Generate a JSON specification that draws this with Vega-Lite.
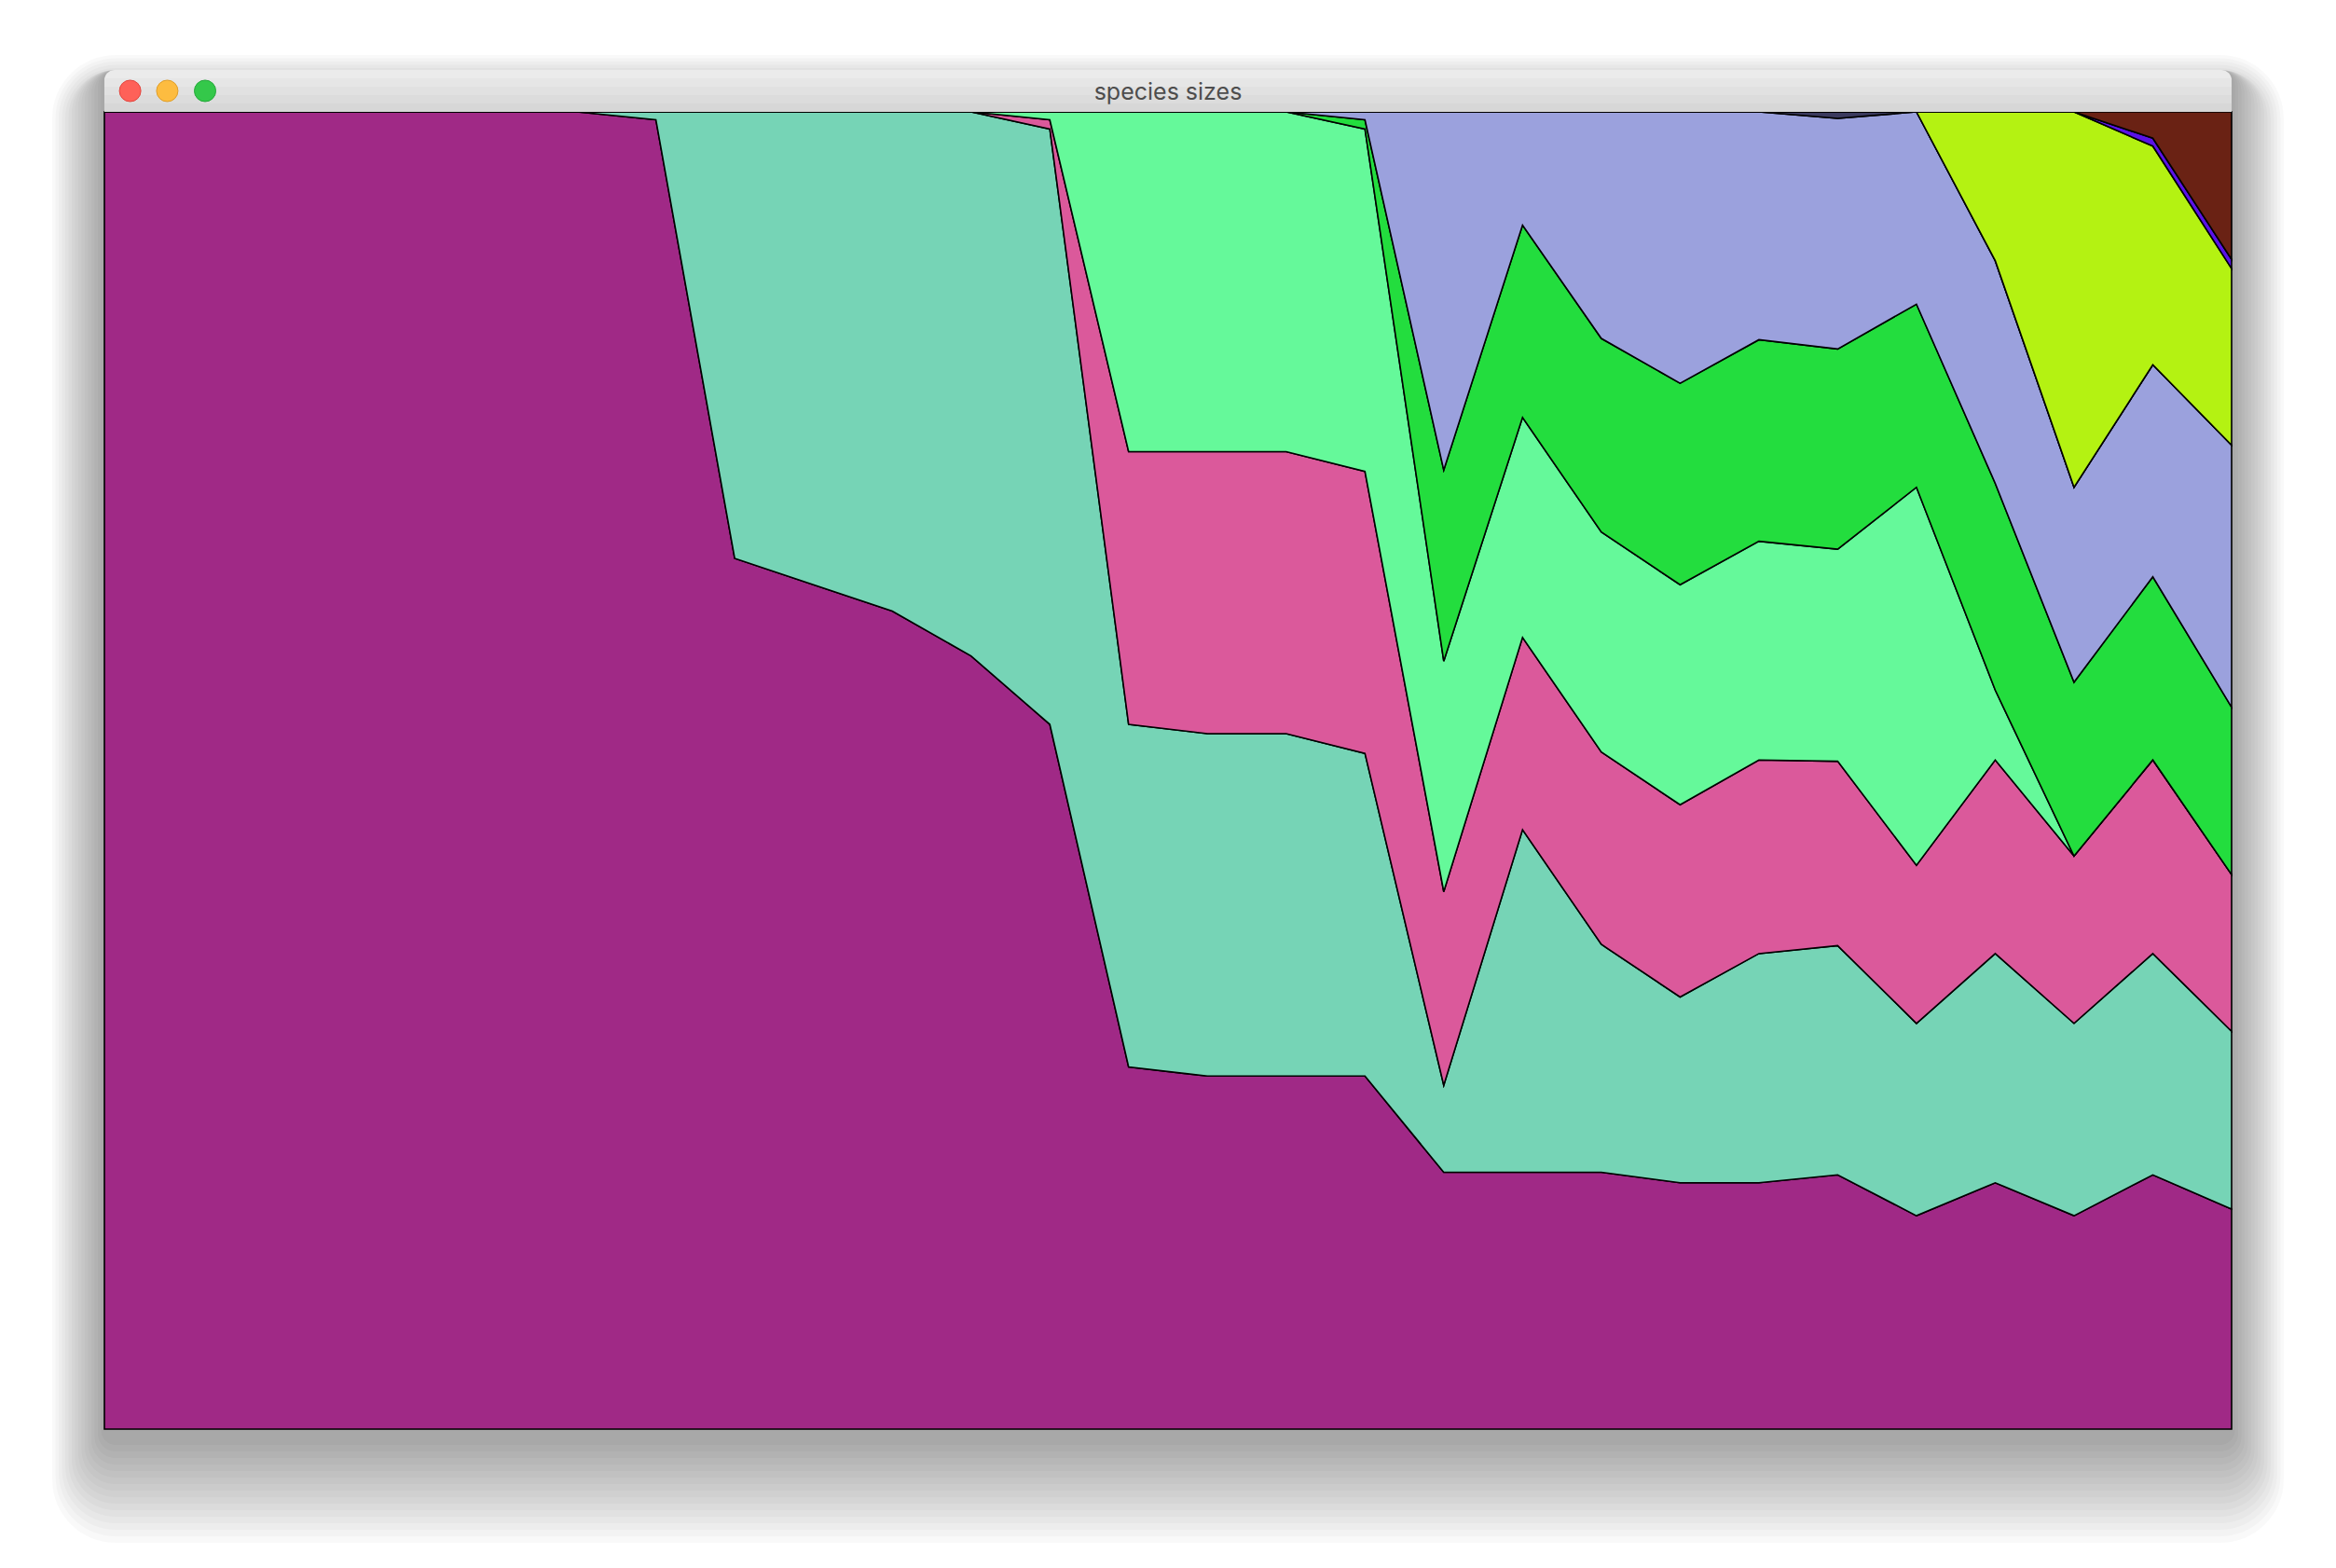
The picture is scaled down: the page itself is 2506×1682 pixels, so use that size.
{
  "$schema": "https://vega.github.io/schema/vega-lite/v6.json",
  "width": 2506,
  "height": 1682,
  "padding": 0,
  "autosize": {"type": "fit", "contains": "padding"},
  "background": "#ffffff",
  "view": {"stroke": null},
  "layer": [
    {
      "data": {
        "values": [
          {"t": 0, "s01": 1000, "s02": 0, "s03": 0, "s04": 0, "s05": 0, "s06": 0, "s07": 0, "s08": 0, "s09": 0, "s10": 0},
          {"t": 1, "s01": 1000, "s02": 0, "s03": 0, "s04": 0, "s05": 0, "s06": 0, "s07": 0, "s08": 0, "s09": 0, "s10": 0},
          {"t": 2, "s01": 1000, "s02": 0, "s03": 0, "s04": 0, "s05": 0, "s06": 0, "s07": 0, "s08": 0, "s09": 0, "s10": 0},
          {"t": 3, "s01": 1000, "s02": 0, "s03": 0, "s04": 0, "s05": 0, "s06": 0, "s07": 0, "s08": 0, "s09": 0, "s10": 0},
          {"t": 4, "s01": 1000, "s02": 0, "s03": 0, "s04": 0, "s05": 0, "s06": 0, "s07": 0, "s08": 0, "s09": 0, "s10": 0},
          {"t": 5, "s01": 1000, "s02": 0, "s03": 0, "s04": 0, "s05": 0, "s06": 0, "s07": 0, "s08": 0, "s09": 0, "s10": 0},
          {"t": 6, "s01": 1000, "s02": 0, "s03": 0, "s04": 0, "s05": 0, "s06": 0, "s07": 0, "s08": 0, "s09": 0, "s10": 0},
          {"t": 7, "s01": 994, "s02": 6, "s03": 0, "s04": 0, "s05": 0, "s06": 0, "s07": 0, "s08": 0, "s09": 0, "s10": 0},
          {"t": 8, "s01": 661, "s02": 339, "s03": 0, "s04": 0, "s05": 0, "s06": 0, "s07": 0, "s08": 0, "s09": 0, "s10": 0},
          {"t": 9, "s01": 641, "s02": 359, "s03": 0, "s04": 0, "s05": 0, "s06": 0, "s07": 0, "s08": 0, "s09": 0, "s10": 0},
          {"t": 10, "s01": 621, "s02": 379, "s03": 0, "s04": 0, "s05": 0, "s06": 0, "s07": 0, "s08": 0, "s09": 0, "s10": 0},
          {"t": 11, "s01": 587, "s02": 413, "s03": 0, "s04": 0, "s05": 0, "s06": 0, "s07": 0, "s08": 0, "s09": 0, "s10": 0},
          {"t": 12, "s01": 535, "s02": 452, "s03": 7, "s04": 6, "s05": 0, "s06": 0, "s07": 0, "s08": 0, "s09": 0, "s10": 0},
          {"t": 13, "s01": 275, "s02": 260, "s03": 207, "s04": 258, "s05": 0, "s06": 0, "s07": 0, "s08": 0, "s09": 0, "s10": 0},
          {"t": 14, "s01": 268, "s02": 260, "s03": 214, "s04": 258, "s05": 0, "s06": 0, "s07": 0, "s08": 0, "s09": 0, "s10": 0},
          {"t": 15, "s01": 268, "s02": 260, "s03": 214, "s04": 258, "s05": 0, "s06": 0, "s07": 0, "s08": 0, "s09": 0, "s10": 0},
          {"t": 16, "s01": 268, "s02": 245, "s03": 214, "s04": 260, "s05": 7, "s06": 6, "s07": 0, "s08": 0, "s09": 0, "s10": 0},
          {"t": 17, "s01": 195, "s02": 66, "s03": 147, "s04": 175, "s05": 145, "s06": 272, "s07": 0, "s08": 0, "s09": 0, "s10": 0},
          {"t": 18, "s01": 195, "s02": 260, "s03": 146, "s04": 167, "s05": 146, "s06": 86, "s07": 0, "s08": 0, "s09": 0, "s10": 0},
          {"t": 19, "s01": 195, "s02": 173, "s03": 146, "s04": 167, "s05": 147, "s06": 172, "s07": 0, "s08": 0, "s09": 0, "s10": 0},
          {"t": 20, "s01": 187, "s02": 141, "s03": 146, "s04": 167, "s05": 153, "s06": 206, "s07": 0, "s08": 0, "s09": 0, "s10": 0},
          {"t": 21, "s01": 187, "s02": 174, "s03": 147, "s04": 166, "s05": 153, "s06": 173, "s07": 0, "s08": 0, "s09": 0, "s10": 0},
          {"t": 22, "s01": 193, "s02": 174, "s03": 140, "s04": 161, "s05": 152, "s06": 175, "s07": 5, "s08": 0, "s09": 0, "s10": 0},
          {"t": 23, "s01": 162, "s02": 146, "s03": 120, "s04": 287, "s05": 139, "s06": 146, "s07": 0, "s08": 0, "s09": 0, "s10": 0},
          {"t": 24, "s01": 187, "s02": 174, "s03": 147, "s04": 53, "s05": 157, "s06": 169, "s07": 0, "s08": 113, "s09": 0, "s10": 0},
          {"t": 25, "s01": 162, "s02": 146, "s03": 127, "s04": 0, "s05": 132, "s06": 148, "s07": 0, "s08": 285, "s09": 0, "s10": 0},
          {"t": 26, "s01": 193, "s02": 168, "s03": 147, "s04": 0, "s05": 139, "s06": 161, "s07": 0, "s08": 166, "s09": 6, "s10": 20},
          {"t": 27, "s01": 167, "s02": 135, "s03": 119, "s04": 0, "s05": 127, "s06": 199, "s07": 0, "s08": 134, "s09": 7, "s10": 112}
        ]
      },
      "transform": [
        {"fold": ["s01", "s02", "s03", "s04", "s05", "s06", "s07", "s08", "s09", "s10"], "as": ["species", "size"]}
      ],
      "mark": {"type": "area", "stroke": "black", "strokeWidth": 1.6, "strokeJoin": "miter"},
      "encoding": {
        "x": {
          "field": "t",
          "type": "quantitative",
          "scale": {"domain": [-1.32515, 28.32515], "nice": false, "zero": false},
          "axis": null
        },
        "y": {
          "field": "size",
          "type": "quantitative",
          "stack": "normalize",
          "scale": {"domain": [-0.105449, 1.084926], "nice": false, "zero": false},
          "axis": null
        },
        "color": {
          "field": "species",
          "type": "nominal",
          "scale": {
            "domain": ["s01", "s02", "s03", "s04", "s05", "s06", "s07", "s08", "s09", "s10"],
            "range": ["#a02986", "#76d4b6", "#db599b", "#65f99a", "#23dd3e", "#9ba1dd", "#3b3a5e", "#b4f212", "#5a12e8", "#6a2214"]
          },
          "legend": null
        },
        "order": {"field": "species", "type": "nominal", "sort": "ascending"}
      }
    },
    {
      "data": {"values": [{"window": "species sizes"}]},
      "encoding": {"x": {"datum": 13.5, "type": "quantitative"}, "y": {"datum": 0.515931, "type": "quantitative"}},
      "layer": [
        {"mark": {"type": "point", "filled": true, "color": "black", "opacity": 0.025, "strokeWidth": 0, "size": 4, "shape": "M-1129,-729H1129A15.5,15.5,0,0,1,1144.5,-713.5V730.5A15.5,15.5,0,0,1,1129,746H-1129A15.5,15.5,0,0,1,-1144.5,730.5V-713.5A15.5,15.5,0,0,1,-1129,-729ZM-1141,-684V729H1141V-684Z"}},
        {"mark": {"type": "point", "filled": true, "color": "black", "opacity": 0.025, "strokeWidth": 0, "size": 4, "shape": "M-1129,-729H1129A19,19,0,0,1,1148,-710V734A19,19,0,0,1,1129,753H-1129A19,19,0,0,1,-1148,734V-710A19,19,0,0,1,-1129,-729ZM-1141,-684V729H1141V-684Z"}},
        {"mark": {"type": "point", "filled": true, "color": "black", "opacity": 0.025, "strokeWidth": 0, "size": 4, "shape": "M-1129,-729H1129A22.5,22.5,0,0,1,1151.5,-706.5V737.5A22.5,22.5,0,0,1,1129,760H-1129A22.5,22.5,0,0,1,-1151.5,737.5V-706.5A22.5,22.5,0,0,1,-1129,-729ZM-1141,-684V729H1141V-684Z"}},
        {"mark": {"type": "point", "filled": true, "color": "black", "opacity": 0.025, "strokeWidth": 0, "size": 4, "shape": "M-1129,-729H1129A26,26,0,0,1,1155,-703V741A26,26,0,0,1,1129,767H-1129A26,26,0,0,1,-1155,741V-703A26,26,0,0,1,-1129,-729ZM-1141,-684V729H1141V-684Z"}},
        {"mark": {"type": "point", "filled": true, "color": "black", "opacity": 0.025, "strokeWidth": 0, "size": 4, "shape": "M-1129,-729H1129A29.5,29.5,0,0,1,1158.5,-699.5V744.5A29.5,29.5,0,0,1,1129,774H-1129A29.5,29.5,0,0,1,-1158.5,744.5V-699.5A29.5,29.5,0,0,1,-1129,-729ZM-1141,-684V729H1141V-684Z"}},
        {"mark": {"type": "point", "filled": true, "color": "black", "opacity": 0.025, "strokeWidth": 0, "size": 4, "shape": "M-1129,-729H1129A33,33,0,0,1,1162,-696V748A33,33,0,0,1,1129,781H-1129A33,33,0,0,1,-1162,748V-696A33,33,0,0,1,-1129,-729ZM-1141,-684V729H1141V-684Z"}},
        {"mark": {"type": "point", "filled": true, "color": "black", "opacity": 0.025, "strokeWidth": 0, "size": 4, "shape": "M-1129,-729H1129A36.5,36.5,0,0,1,1165.5,-692.5V751.5A36.5,36.5,0,0,1,1129,788H-1129A36.5,36.5,0,0,1,-1165.5,751.5V-692.5A36.5,36.5,0,0,1,-1129,-729ZM-1141,-684V729H1141V-684Z"}},
        {"mark": {"type": "point", "filled": true, "color": "black", "opacity": 0.025, "strokeWidth": 0, "size": 4, "shape": "M-1129,-729H1129A40,40,0,0,1,1169,-689V755A40,40,0,0,1,1129,795H-1129A40,40,0,0,1,-1169,755V-689A40,40,0,0,1,-1129,-729ZM-1141,-684V729H1141V-684Z"}},
        {"mark": {"type": "point", "filled": true, "color": "black", "opacity": 0.025, "strokeWidth": 0, "size": 4, "shape": "M-1129,-729H1129A43.5,43.5,0,0,1,1172.5,-685.5V758.5A43.5,43.5,0,0,1,1129,802H-1129A43.5,43.5,0,0,1,-1172.5,758.5V-685.5A43.5,43.5,0,0,1,-1129,-729ZM-1141,-684V729H1141V-684Z"}},
        {"mark": {"type": "point", "filled": true, "color": "black", "opacity": 0.025, "strokeWidth": 0, "size": 4, "shape": "M-1129,-729H1129A47,47,0,0,1,1176,-682V762A47,47,0,0,1,1129,809H-1129A47,47,0,0,1,-1176,762V-682A47,47,0,0,1,-1129,-729ZM-1141,-684V729H1141V-684Z"}},
        {"mark": {"type": "point", "filled": true, "color": "black", "opacity": 0.025, "strokeWidth": 0, "size": 4, "shape": "M-1129,-729H1129A50.5,50.5,0,0,1,1179.5,-678.5V765.5A50.5,50.5,0,0,1,1129,816H-1129A50.5,50.5,0,0,1,-1179.5,765.5V-678.5A50.5,50.5,0,0,1,-1129,-729ZM-1141,-684V729H1141V-684Z"}},
        {"mark": {"type": "point", "filled": true, "color": "black", "opacity": 0.025, "strokeWidth": 0, "size": 4, "shape": "M-1129,-731H1129A54,54,0,0,1,1183,-677V769A54,54,0,0,1,1129,823H-1129A54,54,0,0,1,-1183,769V-677A54,54,0,0,1,-1129,-731ZM-1141,-684V729H1141V-684Z"}},
        {"mark": {"type": "point", "filled": true, "color": "black", "opacity": 0.025, "strokeWidth": 0, "size": 4, "shape": "M-1129,-734.5H1129A57.5,57.5,0,0,1,1186.5,-677V772.5A57.5,57.5,0,0,1,1129,830H-1129A57.5,57.5,0,0,1,-1186.5,772.5V-677A57.5,57.5,0,0,1,-1129,-734.5ZM-1141,-684V729H1141V-684Z"}},
        {"mark": {"type": "point", "filled": true, "color": "black", "opacity": 0.025, "strokeWidth": 0, "size": 4, "shape": "M-1129,-738H1129A61,61,0,0,1,1190,-677V776A61,61,0,0,1,1129,837H-1129A61,61,0,0,1,-1190,776V-677A61,61,0,0,1,-1129,-738ZM-1141,-684V729H1141V-684Z"}},
        {"mark": {"type": "point", "filled": true, "color": "black", "opacity": 0.025, "strokeWidth": 0, "size": 4, "shape": "M-1129,-741.5H1129A64.5,64.5,0,0,1,1193.5,-677V779.5A64.5,64.5,0,0,1,1129,844H-1129A64.5,64.5,0,0,1,-1193.5,779.5V-677A64.5,64.5,0,0,1,-1129,-741.5ZM-1141,-684V729H1141V-684Z"}},
        {"mark": {"type": "point", "filled": true, "color": "black", "opacity": 0.025, "strokeWidth": 0, "size": 4, "shape": "M-1129,-745H1129A68,68,0,0,1,1197,-677V783A68,68,0,0,1,1129,851H-1129A68,68,0,0,1,-1197,783V-677A68,68,0,0,1,-1129,-745ZM-1141,-684V729H1141V-684Z"}},
        {"mark": {"type": "point", "filled": true, "fill": "#ebebeb", "opacity": 1, "strokeWidth": 0, "size": 4, "shape": "M-1141,-684V-718A11,11,0,0,1,-1130,-729H1130A11,11,0,0,1,1141,-718V-684Z"}},
        {"mark": {"type": "point", "filled": true, "fill": "#e6e6e6", "opacity": 1, "strokeWidth": 0, "size": 4, "shape": "M-1141,-720H1141V-684H-1141Z"}},
        {"mark": {"type": "point", "filled": true, "fill": "#e1e1e1", "opacity": 1, "strokeWidth": 0, "size": 4, "shape": "M-1141,-711H1141V-684H-1141Z"}},
        {"mark": {"type": "point", "filled": true, "fill": "#dcdcdc", "opacity": 1, "strokeWidth": 0, "size": 4, "shape": "M-1141,-702H1141V-684H-1141Z"}},
        {"mark": {"type": "point", "filled": true, "fill": "#d7d7d7", "opacity": 1, "strokeWidth": 0, "size": 4, "shape": "M-1141,-693H1141V-684H-1141Z"}},
        {
          "mark": {"type": "point", "shape": "circle", "filled": true, "size": 529, "fill": "#fe6159", "stroke": "#e2463f", "strokeWidth": 1, "opacity": 1},
          "encoding": {"x": {"datum": 0.3265, "type": "quantitative"}, "y": {"datum": 1.015924, "type": "quantitative"}}
        },
        {
          "mark": {"type": "point", "shape": "circle", "filled": true, "size": 529, "fill": "#fdbc40", "stroke": "#df9e2a", "strokeWidth": 1, "opacity": 1},
          "encoding": {"x": {"datum": 0.7978, "type": "quantitative"}, "y": {"datum": 1.015924, "type": "quantitative"}}
        },
        {
          "mark": {"type": "point", "shape": "circle", "filled": true, "size": 529, "fill": "#34c84a", "stroke": "#25a83a", "strokeWidth": 1, "opacity": 1},
          "encoding": {"x": {"datum": 1.278, "type": "quantitative"}, "y": {"datum": 1.015924, "type": "quantitative"}}
        },
        {
          "mark": {"type": "text", "font": "Inter", "fontSize": 25, "color": "#4d4d4d", "align": "center", "baseline": "alphabetic"},
          "encoding": {"text": {"field": "window", "type": "nominal"}, "x": {"datum": 13.5, "type": "quantitative"}, "y": {"datum": 1.009413, "type": "quantitative"}}
        }
      ]
    }
  ]
}
